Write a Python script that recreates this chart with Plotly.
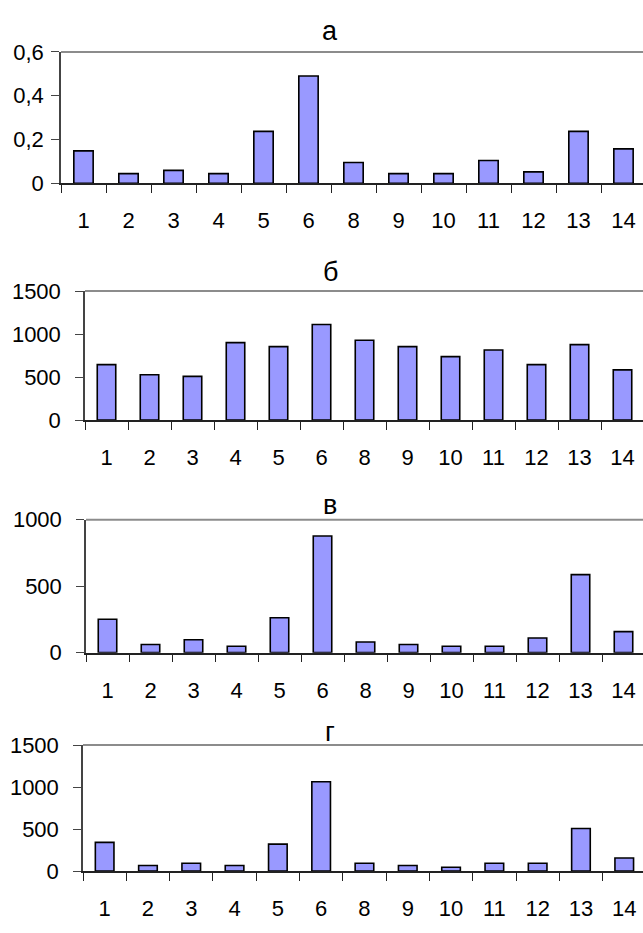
import plotly.graph_objects as go

categories = ["1", "2", "3", "4", "5", "6", "8", "9", "10", "11", "12", "13", "14"]

values_a = [0.148, 0.044, 0.059, 0.044, 0.237, 0.49, 0.095, 0.044, 0.044, 0.104, 0.052, 0.237, 0.157]
values_b = [644, 527, 508, 900, 854, 1111, 927, 854, 738, 814, 644, 877, 583]
values_v = [251, 61, 97, 48, 263, 878, 80, 61, 48, 48, 110, 587, 158]
values_g = [341, 66, 93, 66, 321, 1064, 93, 66, 46, 93, 93, 507, 155]

titles = ["а", "б", "в", "г"]

yticks_a = [0, 0.2, 0.4, 0.6]
yticklabels_a = ["0", "0,2", "0,4", "0,6"]
yticks_b = [0, 500, 1000, 1500]
yticklabels_b = ["0", "500", "1000", "1500"]
yticks_v = [0, 500, 1000]
yticklabels_v = ["0", "500", "1000"]
yticks_g = [0, 500, 1000, 1500]
yticklabels_g = ["0", "500", "1000", "1500"]

W, H = 643, 933
FONT = "Liberation Sans, Arial, sans-serif"
TICK_FS = 22
TITLE_FS = 27

# panel geometry in pixels: (axis_x, top_y, zero_y, category_step, ymax, ylabel_standoff, title_y)
panels = [
    (values_a, titles[0], yticks_a, yticklabels_a, 61, 41, 176, 45.0, 0.6, 3, 20),
    (values_b, titles[1], yticks_b, yticklabels_b, 85, 286.7, 419.3, 43.0, 1500, 10, 267),
    (values_v, titles[2], yticks_v, yticklabels_v, 86, 521.7, 658.3, 43.0, 1000, 10, 507),
    (values_g, titles[3], yticks_g, yticklabels_g, 83, 753.3, 882.7, 43.3, 1500, 10, 740),
]

fig = go.Figure()
layout = dict(
    width=W, height=H,
    margin=dict(l=0, r=0, t=0, b=0),
    paper_bgcolor="white", plot_bgcolor="white",
    showlegend=False,
    bargap=0.57,
    font=dict(family=FONT, size=TICK_FS, color="black"),
    annotations=[], shapes=[],
)

for i, (vals, title, ytv, ytt, ax_x, top_y, zero_y, step, ymax, standoff, title_y) in enumerate(panels):
    n = i + 1
    xa = "x" if n == 1 else f"x{n}"
    ya = "y" if n == 1 else f"y{n}"
    fig.add_trace(go.Bar(
        x=categories, y=vals, xaxis=xa, yaxis=ya,
        marker=dict(color="#9999FF", line=dict(color="black", width=1.6)),
        hoverinfo="x+y",
    ))
    xend = -0.5 + (W - ax_x) / step
    xkey = "xaxis" if n == 1 else f"xaxis{n}"
    ykey = "yaxis" if n == 1 else f"yaxis{n}"
    layout[xkey] = dict(
        domain=[ax_x / W, 1.0],
        anchor=ya,
        type="category",
        range=[-0.5, xend],
        showgrid=False, zeroline=False,
        showline=True, linecolor="#222222", linewidth=1.5,
        ticks="outside", ticklen=8, tickwidth=1.2, tickcolor="#222222",
        tickson="boundaries",
        ticklabelstandoff=17,
        tickfont=dict(family=FONT, size=TICK_FS, color="black"),
        fixedrange=True,
    )
    layout[ykey] = dict(
        domain=[1 - zero_y / H, 1 - top_y / H],
        anchor=xa,
        range=[0, ymax],
        showgrid=False, zeroline=False,
        showline=True, linecolor="#444444", linewidth=1.5,
        ticks="outside", ticklen=8, tickwidth=1.2, tickcolor="#444444",
        tickvals=ytv, ticktext=ytt,
        ticklabelstandoff=standoff,
        tickfont=dict(family=FONT, size=TICK_FS, color="black"),
        fixedrange=True,
    )
    # gray top border of the plot area
    layout["shapes"].append(dict(
        type="line", xref=f"{xa} domain", yref=f"{ya} domain",
        x0=0, x1=1, y0=1, y1=1,
        line=dict(color="#8c8c8c", width=2),
    ))
    layout["annotations"].append(dict(
        text=title, xref="paper", yref="paper",
        x=330 / W, y=1 - title_y / H,
        xanchor="center", yanchor="middle", showarrow=False,
        font=dict(family=FONT, size=TITLE_FS, color="black"),
    ))

fig.update_layout(**layout)
fig.write_html(
    "out.html",
    config={"displayModeBar": False},
    post_script="document.body.style.margin='0';document.body.style.overflow='hidden';",
)
